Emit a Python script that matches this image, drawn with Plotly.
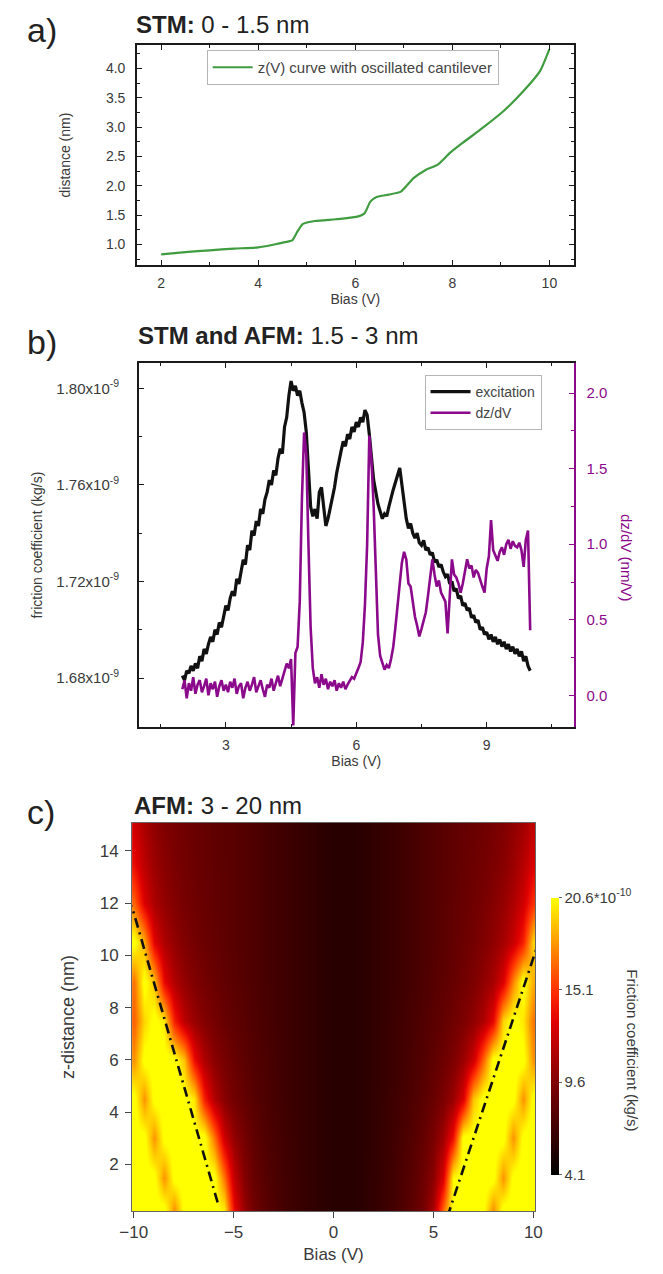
import plotly.graph_objects as go

FONT = "Liberation Sans, Arial, sans-serif"
INK = "#3a3a3a"
PURPLE = "#8b0a8b"
W, H = 663, 1274

# ---------------- a) STM z(V) curve ----------------
bias_a = [2.0, 2.5, 3.0, 3.5, 4.0, 4.33, 4.55, 4.7, 4.8, 4.92, 5.17, 5.6, 6.02,
          6.19, 6.31, 6.44, 6.69, 6.94, 7.2, 7.45, 7.7, 7.95, 8.21, 8.63, 9.05,
          9.47, 9.81, 10.0]
dist_a = [0.83, 0.87, 0.90, 0.93, 0.95, 1.00, 1.04, 1.07, 1.21, 1.35, 1.40, 1.43, 1.47,
          1.53, 1.73, 1.81, 1.85, 1.90, 2.13, 2.27, 2.36, 2.56, 2.73, 2.99, 3.27,
          3.62, 3.96, 4.33]

# ---------------- b) excitation and dz/dV vs bias ----------------
bias_step = 0.05
bias_b = [round(2.0 + bias_step * i, 2) for i in range(161)]

# friction coefficient, units of 1e-9 kg/s
excitation = [
    1.681, 1.679, 1.683, 1.682, 1.685, 1.683, 1.686, 1.684, 1.689, 1.687,
    1.692, 1.690, 1.694, 1.697, 1.695, 1.700, 1.698, 1.703, 1.701, 1.706,
    1.710, 1.708, 1.713, 1.716, 1.714, 1.721, 1.719, 1.724, 1.729, 1.727,
    1.735, 1.733, 1.741, 1.739, 1.745, 1.743, 1.750, 1.748, 1.754, 1.757,
    1.762, 1.760, 1.766, 1.764, 1.771, 1.775, 1.773, 1.784, 1.788, 1.797,
    1.803, 1.799, 1.801, 1.797, 1.799, 1.794, 1.790, 1.782, 1.765, 1.751,
    1.747, 1.750, 1.746, 1.757, 1.759, 1.752, 1.743, 1.746, 1.750, 1.755,
    1.759, 1.765, 1.770, 1.774, 1.778, 1.776, 1.781, 1.779, 1.784, 1.782,
    1.786, 1.784, 1.788, 1.786, 1.791, 1.789, 1.781, 1.772, 1.762, 1.757,
    1.752, 1.749, 1.746, 1.748, 1.747, 1.751, 1.755, 1.758, 1.761, 1.764,
    1.767, 1.760, 1.752, 1.746, 1.742, 1.744, 1.740, 1.738, 1.740, 1.736,
    1.735, 1.737, 1.733, 1.734, 1.731, 1.732, 1.728, 1.729, 1.726, 1.727,
    1.724, 1.722, 1.723, 1.719, 1.720, 1.716, 1.717, 1.713, 1.714, 1.710,
    1.711, 1.708, 1.709, 1.705, 1.706, 1.703, 1.704, 1.700, 1.701, 1.698,
    1.699, 1.696, 1.698, 1.695, 1.697, 1.694, 1.696, 1.693, 1.695, 1.692,
    1.694, 1.691, 1.693, 1.690, 1.692, 1.689, 1.691, 1.687, 1.689, 1.685,
    1.683,
]

# dz/dV in nm/V
dzdv = [
    0.04, 0.10, -0.02, 0.08, 0.03, 0.12, 0.01, 0.07, 0.10, 0.02,
    0.06, 0.11, 0.00, 0.08, 0.04, 0.09, -0.01, 0.06, 0.10, 0.03,
    0.07, 0.02, 0.09, 0.05, 0.11, 0.01, 0.06, 0.08, -0.02, 0.05,
    0.09, 0.03, 0.07, 0.12, 0.02, 0.06, 0.10, 0.04, -0.01, 0.07,
    0.05, 0.11, 0.03, 0.08, 0.13, 0.06, 0.12, 0.16, 0.21, 0.18,
    0.24, -0.20, 0.28, 0.32, 0.62, 1.30, 1.74, 1.60, 1.00, 0.45,
    0.18, 0.08, 0.12, 0.05, 0.14, 0.07, 0.11, 0.04, 0.09, 0.06,
    0.10, 0.03, 0.08, 0.05, 0.09, 0.04, 0.07, 0.10, 0.12, 0.11,
    0.14, 0.18, 0.22, 0.35, 0.60, 1.00, 1.72, 1.55, 1.25, 0.75,
    0.40, 0.26, 0.21, 0.17, 0.20, 0.18, 0.24, 0.32, 0.45, 0.62,
    0.74, 0.88, 0.95, 0.90, 0.74, 0.72, 0.60, 0.52, 0.46, 0.39,
    0.44, 0.50, 0.55, 0.66, 0.78, 0.90, 0.80, 0.72, 0.76, 0.68,
    0.65, 0.62, 0.41, 0.70, 0.90, 0.80, 0.78, 0.74, 0.68, 0.74,
    0.82, 0.90, 0.84, 0.86, 0.78, 0.83, 0.81, 0.76, 0.72, 0.68,
    0.84, 0.92, 1.16, 0.96, 0.92, 0.89, 0.95, 0.98, 0.93, 1.00,
    1.03, 0.97, 1.02, 0.99, 0.98, 1.01, 0.96, 0.85, 1.03, 1.09,
    0.43,
]

exc_ticks = [1.68, 1.72, 1.76, 1.80]
exc_ticktext = ["%.2fx10<sup>-9</sup>" % v for v in exc_ticks]

# ---------------- c) AFM friction map ----------------
bias_c = [-10, -9.5, -9, -8.5, -8, -7.5, -7, -6.5, -6, -5.5, -5, -4.5, -4, -3.5,
          -3, -2.5, -2, -1.5, -1, -0.5, 0, 0.5, 1, 1.5, 2, 2.5, 3, 3.5, 4, 4.5,
          5, 5.5, 6, 6.5, 7, 7.5, 8, 8.5, 9, 9.5, 10]
zdist_c = [0.3, 1.5, 3, 4.5, 6, 7.5, 9, 10.5, 12, 13.5, 15]

# friction coefficient, units of 1e-10 kg/s (rows follow zdist_c)
friction_c = [
    [21, 21, 21, 21, 17.8, 21, 21, 21, 21, 20, 13.5, 10.5, 9.0, 8.1, 7.5, 7.05, 6.7, 6.45, 6.2, 6.0, 5.85,
     5.8, 5.85, 6.0, 6.3, 6.65, 7.05, 7.55, 8.2, 9.1, 11.0, 16.5, 21, 21, 21, 21, 17.8, 21, 21, 21, 21],
    [21, 21, 21, 17.8, 21, 21, 21, 21, 21, 17, 12, 9.8, 8.6, 7.9, 7.4, 7.0, 6.7, 6.45, 6.2, 6.0, 5.85,
     5.8, 5.85, 6.0, 6.3, 6.6, 7.0, 7.5, 8.0, 8.8, 10.0, 13.0, 20.5, 21, 21, 21, 21, 17.8, 21, 21, 21],
    [21, 21, 17.8, 21, 21, 21, 21, 21, 17, 12.5, 10.3, 9.1, 8.3, 7.7, 7.3, 6.95, 6.65, 6.4, 6.2, 6.0, 5.85,
     5.8, 5.85, 6.0, 6.25, 6.55, 6.9, 7.3, 7.8, 8.4, 9.3, 10.8, 14.0, 21, 21, 21, 21, 21, 17.8, 21, 21],
    [21, 17.8, 21, 21, 21, 21, 20, 14.5, 11.5, 9.9, 9.0, 8.4, 7.9, 7.5, 7.15, 6.85, 6.6, 6.4, 6.2, 6.0, 5.85,
     5.8, 5.85, 6.0, 6.25, 6.5, 6.8, 7.15, 7.55, 8.0, 8.6, 9.4, 10.6, 13.0, 19.0, 21, 21, 21, 21, 17.8, 21],
    [17.8, 21, 21, 21, 21, 19, 13.8, 11.3, 10.0, 9.2, 8.6, 8.1, 7.7, 7.4, 7.1, 6.85, 6.6, 6.4, 6.2, 6.0, 5.85,
     5.8, 5.85, 6.0, 6.2, 6.45, 6.7, 7.0, 7.35, 7.75, 8.2, 8.8, 9.5, 10.6, 12.5, 16.5, 21, 21, 21, 21, 17.8],
    [16.5, 19.5, 21, 20, 14.5, 11.8, 10.5, 9.7, 9.1, 8.6, 8.2, 7.9, 7.6, 7.3, 7.05, 6.8, 6.6, 6.4, 6.2, 6.0, 5.85,
     5.8, 5.85, 6.0, 6.2, 6.45, 6.7, 7.0, 7.3, 7.6, 8.0, 8.4, 8.9, 9.5, 10.2, 11.3, 13.5, 19.5, 21, 20, 17],
    [17, 21, 19, 13.5, 11.4, 10.3, 9.6, 9.1, 8.7, 8.3, 8.0, 7.75, 7.5, 7.2, 7.0, 6.8, 6.6, 6.4, 6.2, 6.0, 5.85,
     5.8, 5.85, 6.0, 6.2, 6.4, 6.6, 6.9, 7.15, 7.45, 7.8, 8.15, 8.55, 9.0, 9.5, 10.2, 11.1, 13.0, 17.5, 21, 18.5],
    [21, 18.5, 13.2, 11.3, 10.3, 9.6, 9.1, 8.7, 8.4, 8.15, 7.9, 7.7, 7.5, 7.2, 7.0, 6.8, 6.6, 6.4, 6.2, 6.0, 5.85,
     5.8, 5.85, 6.0, 6.2, 6.4, 6.6, 6.9, 7.1, 7.4, 7.7, 8.0, 8.35, 8.7, 9.1, 9.6, 10.2, 11.0, 12.3, 14.5, 19.5],
    [16.5, 13.0, 11.2, 10.3, 9.7, 9.2, 8.85, 8.55, 8.3, 8.1, 7.9, 7.7, 7.5, 7.2, 7.0, 6.8, 6.6, 6.4, 6.2, 6.0, 5.85,
     5.8, 5.85, 6.0, 6.2, 6.4, 6.6, 6.9, 7.1, 7.4, 7.7, 8.0, 8.3, 8.6, 8.9, 9.3, 9.8, 10.4, 11.3, 12.6, 15.0],
    [13.6, 11.8, 10.6, 9.9, 9.4, 9.0, 8.7, 8.5, 8.25, 8.05, 7.9, 7.7, 7.5, 7.2, 7.0, 6.8, 6.6, 6.4, 6.2, 6.0, 5.85,
     5.8, 5.85, 6.0, 6.2, 6.4, 6.6, 6.9, 7.1, 7.4, 7.7, 7.95, 8.25, 8.5, 8.75, 9.05, 9.45, 9.9, 10.6, 11.6, 13.0],
    [12.6, 11.2, 10.2, 9.6, 9.25, 8.9, 8.65, 8.45, 8.2, 8.0, 7.9, 7.7, 7.5, 7.2, 7.0, 6.8, 6.6, 6.4, 6.2, 6.0, 5.85,
     5.8, 5.85, 6.0, 6.2, 6.4, 6.6, 6.9, 7.1, 7.4, 7.7, 7.9, 8.2, 8.45, 8.65, 8.9, 9.25, 9.6, 10.2, 10.9, 12.0],
]

# dash-dot guide lines along the onset of the high-friction region
guide_left_bias = [-5.8, -10.1]
guide_left_z = [0.55, 11.9]
guide_right_bias = [5.7, 10.65]
guide_right_z = [0.0, 11.4]

cbar_ticks = [4.1, 9.6, 15.1, 20.6]
cbar_ticktext = ["4.1", "9.6", "15.1", "20.6*10<sup>-10</sup>"]

hot_scale = [
    [0.0, "#000000"],
    [0.333, "#800000"],
    [0.55, "#e00000"],
    [0.667, "#ff3000"],
    [0.80, "#ff8000"],
    [0.90, "#ffc000"],
    [1.0, "#ffff00"],
]


def px_x(p):
    return p / W


def px_y(p):
    return 1 - p / H


fig = go.Figure()

fig.add_trace(go.Scatter(
    x=bias_a, y=dist_a, mode="lines", name="z(V) curve with oscillated cantilever",
    line=dict(color="#3f9c3f", width=2.2, shape="spline", smoothing=0.5),
    xaxis="x", yaxis="y", legend="legend"))

fig.add_trace(go.Scatter(
    x=bias_b, y=excitation, mode="lines", name="excitation",
    line=dict(color="#111111", width=3.2),
    xaxis="x2", yaxis="y2", legend="legend2"))
fig.add_trace(go.Scatter(
    x=bias_b, y=dzdv, mode="lines", name="dz/dV",
    line=dict(color=PURPLE, width=2.6),
    xaxis="x2", yaxis="y3", legend="legend2"))

fig.add_trace(go.Heatmap(
    x=bias_c, y=zdist_c, z=friction_c, zmin=4.1, zmax=20.6, zsmooth="best",
    colorscale=hot_scale, xaxis="x3", yaxis="y4", showscale=True,
    colorbar=dict(
        x=px_x(556), xanchor="left", xpad=0, ypad=0,
        y=px_y(1036), yanchor="middle", lenmode="fraction", len=277 / H,
        thickness=8, outlinewidth=0,
        tickvals=cbar_ticks, ticktext=cbar_ticktext,
        ticks="outside", ticklen=3, tickcolor="#666",
        tickfont=dict(family=FONT, size=15, color=INK))))

for gx, gz in ((guide_left_bias, guide_left_z), (guide_right_bias, guide_right_z)):
    fig.add_trace(go.Scatter(
        x=gx, y=gz, mode="lines", showlegend=False, hoverinfo="skip",
        line=dict(color="#111111", width=2.6, dash="10px,5px,2px,5px"),
        xaxis="x3", yaxis="y4"))

tick_font = dict(family=FONT, size=14, color=INK)
title_font = dict(family=FONT, size=14, color=INK)
box = dict(showline=True, linecolor="#1a1a1a", linewidth=1.6, showgrid=False,
           zeroline=False, ticks="inside", tickcolor="#1a1a1a", tickwidth=1.4,
           ticklen=5, tickfont=tick_font)

fig.update_layout(
    width=W, height=H, margin=dict(l=0, r=0, t=0, b=0),
    paper_bgcolor="white", plot_bgcolor="white",
    font=dict(family=FONT, color=INK),
    xaxis=dict(domain=[px_x(128), px_x(579)], anchor="y", range=[1.5, 10.5],
               tick0=2, dtick=2, mirror="ticks", ticklabelstandoff=4,
               minor=dict(ticks="inside", dtick=1, tick0=0, ticklen=3, tickcolor="#1a1a1a"),
               title=dict(text="Bias (V)", font=title_font, standoff=2), **box),
    yaxis=dict(domain=[px_y(265), px_y(45)], anchor="x", range=[0.65, 4.40],
               tick0=1.0, dtick=0.5, tickformat=".1f", mirror="ticks", ticklabelstandoff=7,
               minor=dict(ticks="inside", dtick=0.25, tick0=0, ticklen=3, tickcolor="#1a1a1a"),
               title=dict(text="distance (nm)", font=title_font, standoff=32), **box),
    xaxis2=dict(domain=[px_x(130), px_x(579)], anchor="y2", range=[1.0, 11.0],
                tickvals=[3, 6, 9], mirror="ticks", ticklabelstandoff=4,
                minor=dict(ticks="inside", dtick=1.5, tick0=0, ticklen=3, tickcolor="#1a1a1a"),
                title=dict(text="Bias (V)", font=title_font, standoff=2), **box),
    yaxis2=dict(domain=[px_y(727), px_y(363)], anchor="x2", range=[1.6597, 1.8105],
                tickvals=exc_ticks, ticktext=exc_ticktext, ticklabelstandoff=15,
                minor=dict(ticks="inside", dtick=0.02, tick0=1.68, ticklen=3, tickcolor="#1a1a1a"),
                title=dict(text="friction coefficient (kg/s)", font=title_font, standoff=10),
                **{**box, "tickfont": dict(family=FONT, size=15, color=INK)}),
    yaxis3=dict(overlaying="y2", anchor="x2", side="right", range=[-0.21, 2.20],
                tick0=0, dtick=0.5, tickformat=".1f", ticklabelstandoff=8,
                showline=True, linecolor=PURPLE, linewidth=1.6, showgrid=False, zeroline=False,
                ticks="inside", tickcolor=PURPLE, tickwidth=1.4, ticklen=5,
                minor=dict(ticks="inside", dtick=0.25, tick0=0, ticklen=3, tickcolor=PURPLE),
                tickfont=dict(family=FONT, size=15, color=PURPLE)),
    xaxis3=dict(domain=[px_x(123), px_x(539)], anchor="y4", range=[-10.08, 10.08],
                tickvals=[-10, -5, 0, 5, 10], showline=True, linecolor="#666", linewidth=1,
                mirror=True, showgrid=False, zeroline=False, ticks="outside", ticklen=6,
                tickcolor="#444", tickwidth=1.4, tickfont=dict(family=FONT, size=17, color=INK),
                title=dict(text="Bias (V)", font=dict(family=FONT, size=17, color=INK), standoff=6)),
    yaxis4=dict(domain=[px_y(1211), px_y(823)], anchor="x3", range=[0.22, 15.07],
                tick0=2, dtick=2, showline=True, linecolor="#666", linewidth=1, ticklabelstandoff=3,
                mirror=True, showgrid=False, zeroline=False, ticks="outside", ticklen=6,
                tickcolor="#444", tickwidth=1.4, tickfont=dict(family=FONT, size=17, color=INK),
                title=dict(text="z-distance (nm)", font=dict(family=FONT, size=18, color=INK), standoff=20)),
    legend=dict(x=px_x(200), y=px_y(50), xanchor="left", yanchor="top",
                bgcolor="white", bordercolor="#b5b5b5", borderwidth=1,
                font=dict(family=FONT, size=15, color="#444"), tracegroupgap=0,
                itemwidth=40),
    legend2=dict(x=px_x(425), y=px_y(375), xanchor="left", yanchor="top",
                 bgcolor="white", bordercolor="#b5b5b5", borderwidth=1,
                 font=dict(family=FONT, size=14, color="#444"), tracegroupgap=0,
                 itemwidth=40),
)

panel_labels = [("a)", 30), ("b)", 342), ("c)", 812)]
panel_titles = [("<b>STM:</b> 0 - 1.5 nm", 125, 25),
                ("<b>STM and AFM:</b> 1.5 - 3 nm", 127, 335),
                ("<b>AFM:</b> 3 - 20 nm", 123, 805)]
for text, yp in panel_labels:
    fig.add_annotation(text=text, x=px_x(12), y=px_y(yp), xref="paper", yref="paper",
                       xanchor="left", yanchor="middle", showarrow=False,
                       font=dict(family=FONT, size=34, color="#222"))
for text, xp, yp in panel_titles:
    fig.add_annotation(text=text, x=px_x(xp), y=px_y(yp), xref="paper", yref="paper",
                       xanchor="left", yanchor="middle", showarrow=False,
                       font=dict(family=FONT, size=24, color="#222"))

fig.add_annotation(text="dz/dV (nm/V)", textangle=90, x=px_x(634), y=px_y(558),
                   xref="paper", yref="paper", xanchor="center", yanchor="middle",
                   showarrow=False, font=dict(family=FONT, size=15, color=PURPLE))
fig.add_annotation(text="Friction coefficient (kg/s)", textangle=90, x=px_x(640), y=px_y(1050),
                   xref="paper", yref="paper", xanchor="center", yanchor="middle",
                   showarrow=False, font=dict(family=FONT, size=15, color=INK))

fig.write_html("out.html")
